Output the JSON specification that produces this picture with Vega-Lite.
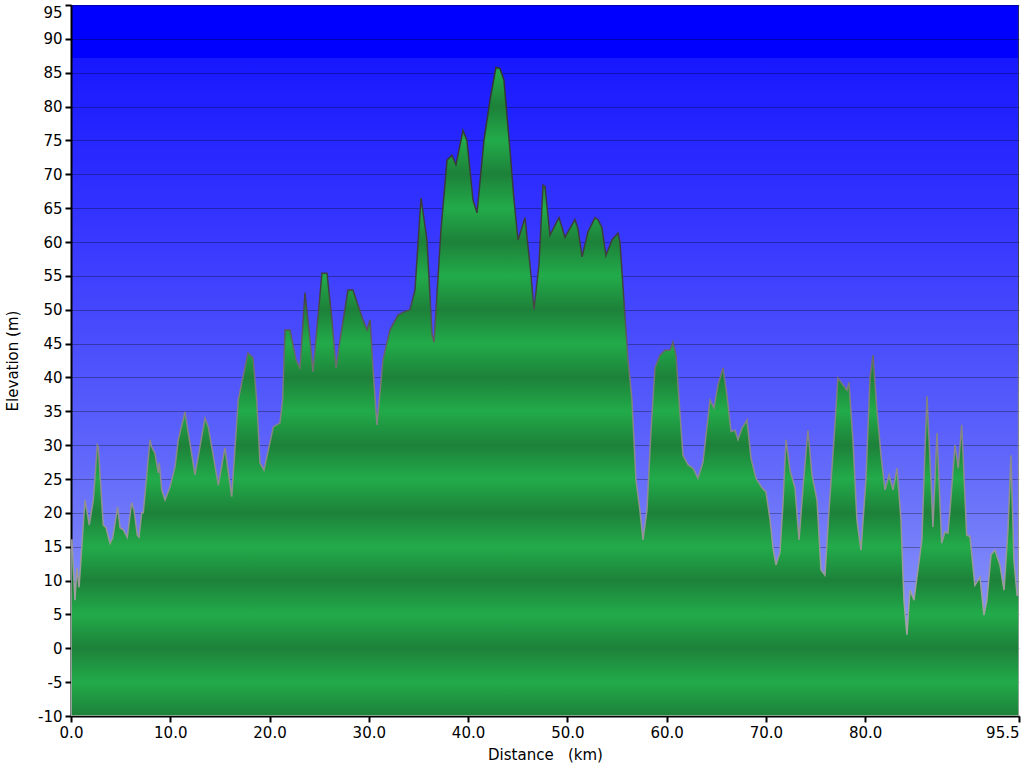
{
  "$schema": "https://vega.github.io/schema/vega-lite/v6.json",
  "width": 948,
  "height": 711,
  "autosize": "none",
  "padding": {"left": 71, "top": 5, "right": 5, "bottom": 52},
  "background": "white",
  "config": {
    "view": {
      "stroke": null,
      "fill": {
        "gradient": "linear", "x1": 0, "y1": 0, "x2": 0, "y2": 1,
        "stops": [
          {"offset": 0, "color": "#0000ff"},
          {"offset": 0.0745, "color": "#0000ff"},
          {"offset": 0.0746, "color": "#1818ff"},
          {"offset": 0.3, "color": "#3434ff"},
          {"offset": 0.6, "color": "#5a60fa"},
          {"offset": 0.85, "color": "#8690f8"},
          {"offset": 1, "color": "#98a3fa"}
        ]
      }
    },
    "axis": {
      "labelFont": "DejaVu Sans",
      "titleFont": "DejaVu Sans",
      "labelFontSize": 15,
      "titleFontSize": 15,
      "titleFontWeight": "normal",
      "labelColor": "#000000",
      "titleColor": "#000000",
      "domainColor": "#000000",
      "domainWidth": 2,
      "tickColor": "#000000",
      "tickWidth": 2,
      "tickSize": 6,
      "zindex": 1
    }
  },
  "data": {
    "values": [
      {"d": 0.00, "e": 16},
      {"d": 0.10, "e": 16},
      {"d": 0.40, "e": 7.1},
      {"d": 0.60, "e": 11.9},
      {"d": 0.81, "e": 9},
      {"d": 1.41, "e": 21.9},
      {"d": 1.84, "e": 18.2},
      {"d": 2.25, "e": 21.9},
      {"d": 2.65, "e": 30},
      {"d": 2.75, "e": 29.7},
      {"d": 3.25, "e": 18.2},
      {"d": 3.53, "e": 17.8},
      {"d": 3.93, "e": 15.5},
      {"d": 4.20, "e": 16.3},
      {"d": 4.70, "e": 20.9},
      {"d": 4.94, "e": 17.8},
      {"d": 5.27, "e": 17.5},
      {"d": 5.67, "e": 16.4},
      {"d": 6.11, "e": 21.5},
      {"d": 6.35, "e": 20.4},
      {"d": 6.68, "e": 16.7},
      {"d": 6.85, "e": 16.4},
      {"d": 7.12, "e": 20},
      {"d": 7.28, "e": 20},
      {"d": 7.96, "e": 30.8},
      {"d": 8.13, "e": 29.7},
      {"d": 8.46, "e": 28.8},
      {"d": 8.79, "e": 25.9},
      {"d": 8.89, "e": 27.4},
      {"d": 9.14, "e": 23.4},
      {"d": 9.47, "e": 21.9},
      {"d": 9.97, "e": 23.8},
      {"d": 10.48, "e": 26.8},
      {"d": 10.81, "e": 30.8},
      {"d": 11.48, "e": 34.9},
      {"d": 12.49, "e": 25.6},
      {"d": 13.50, "e": 34},
      {"d": 13.83, "e": 32.7},
      {"d": 14.84, "e": 24.1},
      {"d": 15.51, "e": 29.6},
      {"d": 16.19, "e": 22.4},
      {"d": 16.85, "e": 36.7},
      {"d": 17.83, "e": 43.6},
      {"d": 18.33, "e": 42.9},
      {"d": 18.71, "e": 36.7},
      {"d": 19.04, "e": 27.4},
      {"d": 19.44, "e": 26.3},
      {"d": 20.38, "e": 32.7},
      {"d": 21.05, "e": 33.3},
      {"d": 21.32, "e": 36.7},
      {"d": 21.56, "e": 47},
      {"d": 22.06, "e": 47},
      {"d": 22.67, "e": 42.6},
      {"d": 23.07, "e": 41.4},
      {"d": 23.57, "e": 52.5},
      {"d": 23.98, "e": 47},
      {"d": 24.38, "e": 40.8},
      {"d": 25.28, "e": 55.4},
      {"d": 25.79, "e": 55.4},
      {"d": 26.29, "e": 48.5},
      {"d": 26.70, "e": 41.4},
      {"d": 27.10, "e": 45.5},
      {"d": 27.90, "e": 52.9},
      {"d": 28.41, "e": 52.9},
      {"d": 28.91, "e": 50.7},
      {"d": 29.41, "e": 48.5},
      {"d": 29.82, "e": 47},
      {"d": 30.12, "e": 48.5},
      {"d": 30.42, "e": 41.4},
      {"d": 30.82, "e": 33},
      {"d": 31.43, "e": 42.6},
      {"d": 32.13, "e": 47},
      {"d": 32.94, "e": 49.2},
      {"d": 33.44, "e": 49.6},
      {"d": 34.15, "e": 50},
      {"d": 34.65, "e": 52.9},
      {"d": 35.26, "e": 66.5},
      {"d": 35.86, "e": 60.3},
      {"d": 36.37, "e": 46.3},
      {"d": 36.57, "e": 45.2},
      {"d": 37.27, "e": 61.8},
      {"d": 37.88, "e": 72.1},
      {"d": 38.38, "e": 72.8},
      {"d": 38.78, "e": 71.4},
      {"d": 39.49, "e": 76.5},
      {"d": 39.89, "e": 75},
      {"d": 40.50, "e": 66.2},
      {"d": 40.90, "e": 64.3},
      {"d": 41.60, "e": 75},
      {"d": 42.21, "e": 81},
      {"d": 42.81, "e": 85.8},
      {"d": 43.22, "e": 85.6},
      {"d": 43.62, "e": 83.9},
      {"d": 44.22, "e": 73.6},
      {"d": 44.63, "e": 66.2},
      {"d": 45.03, "e": 60.3},
      {"d": 45.43, "e": 62.1},
      {"d": 45.73, "e": 63.6},
      {"d": 46.24, "e": 56.6},
      {"d": 46.64, "e": 50},
      {"d": 47.14, "e": 56.6},
      {"d": 47.55, "e": 68.4},
      {"d": 47.75, "e": 68.2},
      {"d": 48.25, "e": 61},
      {"d": 48.76, "e": 62.5},
      {"d": 49.16, "e": 63.6},
      {"d": 49.76, "e": 60.7},
      {"d": 50.17, "e": 61.8},
      {"d": 50.77, "e": 63.3},
      {"d": 51.07, "e": 62},
      {"d": 51.48, "e": 57.8},
      {"d": 52.08, "e": 61.5},
      {"d": 52.79, "e": 63.6},
      {"d": 53.09, "e": 63.3},
      {"d": 53.49, "e": 62.1},
      {"d": 53.89, "e": 58},
      {"d": 54.50, "e": 60.3},
      {"d": 55.10, "e": 61.3},
      {"d": 55.30, "e": 60},
      {"d": 55.70, "e": 51.4},
      {"d": 56.11, "e": 42.6},
      {"d": 56.51, "e": 36.7},
      {"d": 56.91, "e": 24.9},
      {"d": 57.31, "e": 20.4},
      {"d": 57.62, "e": 16},
      {"d": 58.02, "e": 20.4},
      {"d": 58.43, "e": 32.2},
      {"d": 58.83, "e": 41.4},
      {"d": 59.33, "e": 43.3},
      {"d": 59.84, "e": 44},
      {"d": 60.34, "e": 44},
      {"d": 60.64, "e": 45.2},
      {"d": 60.95, "e": 43.3},
      {"d": 61.25, "e": 36.7},
      {"d": 61.65, "e": 28.5},
      {"d": 62.16, "e": 27.1},
      {"d": 62.66, "e": 26.6},
      {"d": 63.16, "e": 25.1},
      {"d": 63.67, "e": 27.5},
      {"d": 64.37, "e": 36.7},
      {"d": 64.77, "e": 35.5},
      {"d": 65.18, "e": 38.9},
      {"d": 65.68, "e": 41.4},
      {"d": 66.08, "e": 37.4},
      {"d": 66.49, "e": 32},
      {"d": 66.89, "e": 32.2},
      {"d": 67.19, "e": 30.8},
      {"d": 67.59, "e": 32.5},
      {"d": 68.10, "e": 33.7},
      {"d": 68.50, "e": 28.1},
      {"d": 69.00, "e": 25.1},
      {"d": 69.61, "e": 23.7},
      {"d": 70.01, "e": 23.1},
      {"d": 70.42, "e": 19},
      {"d": 70.72, "e": 14.8},
      {"d": 71.02, "e": 12.3},
      {"d": 71.42, "e": 14.2},
      {"d": 71.72, "e": 21.2},
      {"d": 72.03, "e": 30.8},
      {"d": 72.43, "e": 26.3},
      {"d": 72.93, "e": 23.7},
      {"d": 73.34, "e": 16},
      {"d": 73.74, "e": 23.7},
      {"d": 74.24, "e": 32.2},
      {"d": 74.65, "e": 25.6},
      {"d": 75.15, "e": 21.9},
      {"d": 75.55, "e": 11.6},
      {"d": 75.95, "e": 10.8},
      {"d": 76.36, "e": 20.4},
      {"d": 76.86, "e": 30.8},
      {"d": 77.26, "e": 39.9},
      {"d": 77.77, "e": 38.9},
      {"d": 78.17, "e": 38.1},
      {"d": 78.37, "e": 39.3},
      {"d": 78.77, "e": 30.8},
      {"d": 79.17, "e": 19},
      {"d": 79.58, "e": 14.5},
      {"d": 80.08, "e": 24.9},
      {"d": 80.49, "e": 39.9},
      {"d": 80.79, "e": 43.3},
      {"d": 81.19, "e": 35.2},
      {"d": 81.60, "e": 28.5},
      {"d": 82.00, "e": 23.4},
      {"d": 82.41, "e": 25.6},
      {"d": 82.81, "e": 23.4},
      {"d": 83.21, "e": 26.6},
      {"d": 83.61, "e": 19},
      {"d": 83.91, "e": 7.1},
      {"d": 84.21, "e": 2},
      {"d": 84.52, "e": 8.6},
      {"d": 84.92, "e": 7.1},
      {"d": 85.32, "e": 11.6},
      {"d": 85.72, "e": 16},
      {"d": 86.03, "e": 29.3},
      {"d": 86.23, "e": 37.2},
      {"d": 86.63, "e": 24.9},
      {"d": 86.83, "e": 17.9},
      {"d": 87.24, "e": 31.8},
      {"d": 87.71, "e": 15.5},
      {"d": 88.04, "e": 17.2},
      {"d": 88.34, "e": 17},
      {"d": 88.55, "e": 20.4},
      {"d": 89.05, "e": 30},
      {"d": 89.38, "e": 26.6},
      {"d": 89.73, "e": 33},
      {"d": 90.23, "e": 16.7},
      {"d": 90.56, "e": 16.5},
      {"d": 91.06, "e": 9.3},
      {"d": 91.57, "e": 10.5},
      {"d": 91.97, "e": 4.9},
      {"d": 92.27, "e": 7.1},
      {"d": 92.68, "e": 13.8},
      {"d": 93.08, "e": 14.5},
      {"d": 93.58, "e": 12.3},
      {"d": 93.99, "e": 8.6},
      {"d": 94.39, "e": 17.5},
      {"d": 94.69, "e": 28.5},
      {"d": 94.99, "e": 13},
      {"d": 95.30, "e": 7.9},
      {"d": 95.45, "e": 8},
      {"d": 95.50, "e": 95}
    ]
  },
  "mark": {
    "type": "area",
    "clip": true,
    "interpolate": "linear",
    "strokeWidth": 1.5,
    "fill": {
      "gradient": "linear", "x1": 0, "y1": 0, "x2": 0, "y2": 1,
      "stops": [
        {"offset": 0, "color": "#22ab4a"},
        {"offset": 0.047619, "color": "#1d8139"},
        {"offset": 0.095238, "color": "#22ab4a"},
        {"offset": 0.142857, "color": "#1d8139"},
        {"offset": 0.190476, "color": "#22ab4a"},
        {"offset": 0.238095, "color": "#1d8139"},
        {"offset": 0.285714, "color": "#22ab4a"},
        {"offset": 0.333333, "color": "#1d8139"},
        {"offset": 0.380952, "color": "#22ab4a"},
        {"offset": 0.428571, "color": "#1d8139"},
        {"offset": 0.476190, "color": "#22ab4a"},
        {"offset": 0.523810, "color": "#1d8139"},
        {"offset": 0.571429, "color": "#22ab4a"},
        {"offset": 0.619048, "color": "#1d8139"},
        {"offset": 0.666667, "color": "#22ab4a"},
        {"offset": 0.714286, "color": "#1d8139"},
        {"offset": 0.761905, "color": "#22ab4a"},
        {"offset": 0.809524, "color": "#1d8139"},
        {"offset": 0.857143, "color": "#22ab4a"},
        {"offset": 0.904762, "color": "#1d8139"},
        {"offset": 0.952381, "color": "#22ab4a"},
        {"offset": 1, "color": "#1d8139"}
      ]
    },
    "stroke": {
      "gradient": "linear", "x1": 0, "y1": 0, "x2": 0, "y2": 1,
      "stops": [
        {"offset": 0, "color": "#303030"},
        {"offset": 0.4, "color": "#404040"},
        {"offset": 0.55, "color": "#808080"},
        {"offset": 1, "color": "#b0b0b0"}
      ]
    }
  },
  "encoding": {
    "x": {
      "field": "d",
      "type": "quantitative",
      "scale": {"domain": [0, 95.5], "nice": false, "zero": false},
      "axis": {
        "title": "Distance \u00a0 (km)",
        "values": [0, 10, 20, 30, 40, 50, 60, 70, 80, 95.5],
        "format": ".1f",
        "grid": false,
        "labelPadding": 3,
        "titlePadding": 7,
        "labelAlign": {"condition": {"test": "datum.value == 95.5", "value": "right"}, "value": "center"}
      }
    },
    "y": {
      "field": "e",
      "type": "quantitative",
      "scale": {"domain": [-10, 95], "nice": false, "zero": false},
      "axis": {
        "title": "Elevation (m)",
        "values": [-10, -5, 0, 5, 10, 15, 20, 25, 30, 35, 40, 45, 50, 55, 60, 65, 70, 75, 80, 85, 90, 95],
        "labelExpr": "'' + datum.value",
        "labelBaseline": {"condition": {"test": "datum.value == 95", "value": "top"}, "value": "middle"},
        "grid": true,
        "gridColor": "#000000",
        "gridOpacity": 0.3,
        "gridWidth": 1,
        "labelPadding": 3,
        "titlePadding": 17
      }
    },
    "y2": {"datum": -10}
  }
}
